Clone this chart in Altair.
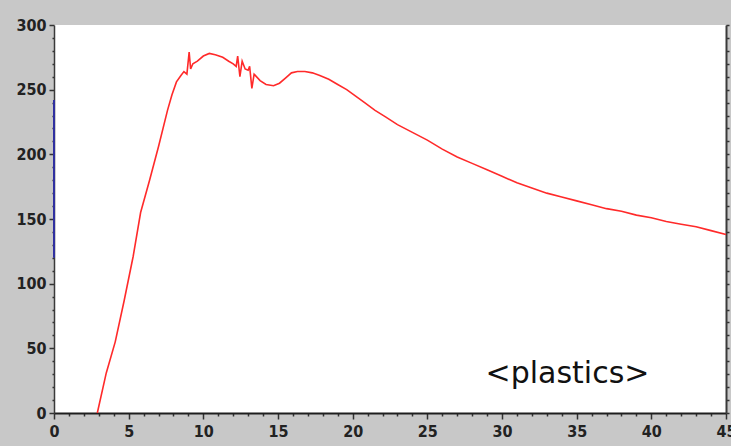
import altair as alt
import pandas as pd

# curve
xs = [2.9, 3.5, 4.1, 4.7, 5.3, 5.8, 6.4, 7.0, 7.6, 7.9, 8.2, 8.5, 8.7, 8.9, 9.05, 9.15, 9.3, 9.6,
      10.0, 10.4, 10.8, 11.3, 11.7, 12.0, 12.2, 12.3, 12.45, 12.6, 12.8, 13.0, 13.1, 13.25,
      13.4, 13.8, 14.2, 14.7, 15.1, 15.5, 15.9, 16.3, 16.8, 17.3, 17.8, 18.4, 19.0, 19.6,
      20.2, 20.8, 21.5, 22.2, 23.0, 24.0, 25.0, 26.0, 27.0, 28.0, 29.0, 30.0, 31.0, 32.0,
      33.0, 34.0, 35.0, 36.0, 37.0, 38.0, 39.0, 40.0, 41.0, 42.0, 43.0, 44.0, 45.0]
ys = [0, 31, 55, 87, 121, 155, 180, 206, 234, 246, 256, 261, 264, 262, 279, 266, 270, 272,
      276, 278, 277, 275, 272, 270, 268, 276, 260, 272, 266, 265, 268, 251,
      262, 257, 254, 253, 255, 259, 263, 264, 264, 263, 261, 258, 254, 250,
      245, 240, 234, 229, 223, 217, 211, 204, 198, 193, 188, 183, 178, 174,
      170, 167, 164, 161, 158, 156, 153, 151, 148, 146, 144, 141, 138]

x_ticks = list(range(0, 46, 1))
y_ticks = list(range(0, 301, 10))
blue_seg = [120, 242]
label_text = ["<plastics>"]
label_x = [28.9]
label_y = [23]

df = pd.DataFrame({"x": xs, "y": ys})
blue_df = pd.DataFrame({"x": [0], "y": [blue_seg[0]], "y2": [blue_seg[1]]})
lab_df = pd.DataFrame({"x": label_x, "y": label_y, "t": label_text})

FONT = "DejaVu Sans Condensed"
xscale = alt.Scale(domain=[0, 45], nice=False, zero=False)
yscale = alt.Scale(domain=[0, 300], nice=False)

xaxis = alt.Axis(
    values=x_ticks, title=None, grid=False,
    labelExpr="datum.value % 5 === 0 ? datum.label : ''",
    tickSize={"condition": {"test": "datum.value % 5 === 0", "value": 6}, "value": 3},
    labelFont=FONT, labelFontSize=16, labelFontWeight="bold", labelColor="#222222",
    labelPadding=4, domainColor="#1e1e1e", domainWidth=2, tickColor="#333333",
    tickWidth=1.5, labelFlush=False,
)
yaxis = alt.Axis(
    values=y_ticks, title=None, grid=False,
    labelExpr="datum.value % 50 === 0 ? datum.label : ''",
    tickSize={"condition": {"test": "datum.value % 50 === 0", "value": 5}, "value": 2},
    labelFont=FONT, labelFontSize=16, labelFontWeight="bold", labelColor="#222222",
    labelPadding=3, domainColor="#3a3a3a", domainWidth=1.5, tickColor="#333333",
    tickWidth=1.5, orient="left", labelFlush=False,
)
yaxis_r = alt.Axis(
    values=y_ticks, title=None, grid=False, labels=False,
    tickSize=3, domainColor="#3a3a3a", domainWidth=2, tickColor="#333333",
    tickWidth=1.5, orient="right",
)

X = alt.X("x:Q", scale=xscale, axis=xaxis)

line = alt.Chart(df).mark_line(color="#ff2a2a", strokeWidth=1.6).encode(
    x=X,
    y=alt.Y("y:Q", scale=yscale, axis=yaxis),
)
right = alt.Chart(df).mark_line(opacity=0).encode(
    x=X,
    y=alt.Y("y:Q", scale=yscale, axis=yaxis_r),
)
blue = alt.Chart(blue_df).mark_rule(color="#3030a0", strokeWidth=2).encode(
    x=X,
    y=alt.Y("y:Q", scale=yscale, axis=None),
    y2="y2:Q",
)
text = alt.Chart(lab_df).mark_text(
    font="DejaVu Sans", fontSize=30, align="left", baseline="alphabetic", color="#111111"
).encode(
    x=X,
    y=alt.Y("y:Q", scale=yscale, axis=None),
    text="t:N",
)

chart = alt.layer(line, right, blue, text).resolve_axis(y="independent", x="shared").properties(
    width=672, height=388,
    autosize=alt.AutoSizeParams(type="none"),
    padding={"left": 54, "top": 25, "right": 5, "bottom": 33},
    background="#c8c8c8",
).configure_view(fill="white", stroke=None)

chart.save("out.html", embed_options={"renderer": "svg", "actions": False})
